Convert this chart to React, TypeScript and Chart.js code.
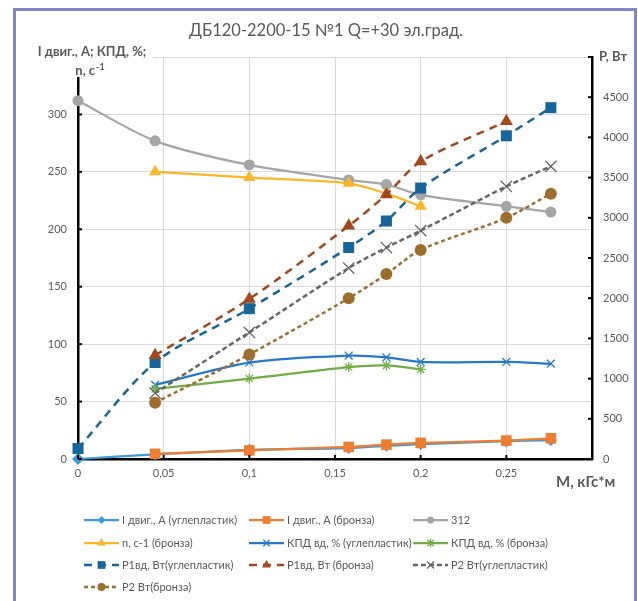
import { useEffect, useRef } from 'react';
import { Chart, registerables } from 'chart.js';

Chart.register(...registerables);

// Torque, kgf*m
const torque = [0, 0.045, 0.1, 0.158, 0.18, 0.2, 0.25, 0.276];

// Left axis: current (A), efficiency (%), speed (1/s)
const currentCarbon = [0, 4, 8, 9.5, 11.5, 13, 15.5, 16.5];
const currentBronze = [null, 4.5, 7.5, 10.5, 12.5, 14, 16, 18];
const series312 = [312, 277, 256, 243, 239, 230, 220, 215];
const speedBronze = [null, 250, 245, 240, 231, 220, null, null];
const effCarbon = [null, 64.5, 84, 90, 88.5, 84.5, 84.5, 83];
const effBronze = [null, 61, 70, 80, 81.5, 78, null, null];

// Right axis: power (W)
const p1Carbon = [130, 1200, 1870, 2630, 2960, 3370, 4020, 4370];
const p1Bronze = [null, 1290, 1990, 2900, 3290, 3700, 4200, null];
const p2Carbon = [null, 820, 1575, 2375, 2630, 2840, 3390, 3640];
const p2Bronze = [null, 700, 1300, 2000, 2300, 2600, 3000, 3300];

const FONT = 'Lato, "Open Sans", sans-serif';
const TEXT = '#595959';

type Style = 'circle' | 'rect' | 'rectRot' | 'triangle' | 'crossRot' | 'star';

interface SeriesDef {
  label: string;
  values: (number | null)[];
  axis: 'y' | 'y1';
  color: string;
  marker: Style;
  radius: number;
  legendRadius: number;
  dash: number[];
  width: number;
}

const series: SeriesDef[] = [
  { label: 'I двиг., А (углепластик)', values: currentCarbon, axis: 'y', color: '#3D9BD8', marker: 'rectRot', radius: 6, legendRadius: 4, dash: [], width: 2.25 },
  { label: 'I двиг., А (бронза)', values: currentBronze, axis: 'y', color: '#ED7D31', marker: 'rect', radius: 7.5, legendRadius: 5.5, dash: [], width: 2.25 },
  { label: '312', values: series312, axis: 'y', color: '#A5A5A5', marker: 'circle', radius: 5.5, legendRadius: 3.5, dash: [], width: 2.25 },
  { label: 'n, с-1 (бронза)', values: speedBronze, axis: 'y', color: '#FDB628', marker: 'triangle', radius: 7, legendRadius: 5, dash: [], width: 2.25 },
  { label: 'КПД вд, % (углепластик)', values: effCarbon, axis: 'y', color: '#2878C8', marker: 'crossRot', radius: 5.5, legendRadius: 4.5, dash: [], width: 2.25 },
  { label: 'КПД вд, % (бронза)', values: effBronze, axis: 'y', color: '#70AD47', marker: 'star', radius: 5, legendRadius: 4.5, dash: [], width: 2.25 },
  { label: 'P1вд, Вт(углепластик)', values: p1Carbon, axis: 'y1', color: '#17659A', marker: 'rect', radius: 7.8, legendRadius: 5.5, dash: [8, 6], width: 2.5 },
  { label: 'P1вд, Вт (бронза)', values: p1Bronze, axis: 'y1', color: '#A2481D', marker: 'triangle', radius: 7.5, legendRadius: 5, dash: [8, 6], width: 2.5 },
  { label: 'P2 Вт(углепластик)', values: p2Carbon, axis: 'y1', color: '#666666', marker: 'crossRot', radius: 8, legendRadius: 5, dash: [5, 3], width: 2.5 },
  { label: 'P2 Вт(бронза)', values: p2Bronze, axis: 'y1', color: '#9D6D2E', marker: 'circle', radius: 6, legendRadius: 4, dash: [4, 3], width: 2.5 },
];

const toPoints = (values: (number | null)[]) =>
  torque
    .map((x, i) => ({ x, y: values[i] }))
    .filter((p) => p.y !== null) as { x: number; y: number }[];

function drawMarker(ctx: CanvasRenderingContext2D, style: Style, x: number, y: number, r: number, color: string) {
  ctx.save();
  ctx.fillStyle = color;
  ctx.strokeStyle = color;
  ctx.setLineDash([]);
  ctx.lineWidth = 1.3;
  ctx.beginPath();
  const d = r * Math.SQRT1_2;
  switch (style) {
    case 'circle':
      ctx.arc(x, y, r, 0, Math.PI * 2);
      ctx.fill();
      break;
    case 'rect':
      ctx.rect(x - d, y - d, 2 * d, 2 * d);
      ctx.fill();
      break;
    case 'rectRot':
      ctx.moveTo(x - r, y);
      ctx.lineTo(x, y - r);
      ctx.lineTo(x + r, y);
      ctx.lineTo(x, y + r);
      ctx.closePath();
      ctx.fill();
      break;
    case 'triangle': {
      for (let k = 0; k < 3; k++) {
        const a = (k * 2 * Math.PI) / 3;
        const px = x + Math.sin(a) * r;
        const py = y - Math.cos(a) * r;
        if (k === 0) ctx.moveTo(px, py);
        else ctx.lineTo(px, py);
      }
      ctx.closePath();
      ctx.fill();
      break;
    }
    case 'crossRot':
      ctx.moveTo(x - d, y - d);
      ctx.lineTo(x + d, y + d);
      ctx.moveTo(x - d, y + d);
      ctx.lineTo(x + d, y - d);
      ctx.stroke();
      break;
    case 'star':
      ctx.moveTo(x - d, y - d);
      ctx.lineTo(x + d, y + d);
      ctx.moveTo(x - d, y + d);
      ctx.lineTo(x + d, y - d);
      ctx.moveTo(x, y - r);
      ctx.lineTo(x, y + r);
      ctx.moveTo(x - r, y);
      ctx.lineTo(x + r, y);
      ctx.stroke();
      break;
  }
  ctx.restore();
}

const decorations = {
  id: 'decorations',
  afterDraw(chart: any) {
    const ctx: CanvasRenderingContext2D = chart.ctx;
    const area = chart.chartArea;
    const yL = chart.scales.y;
    const yR = chart.scales.y1;
    const xs = chart.scales.x;

    ctx.save();

    // inner tick marks
    ctx.strokeStyle = '#000';
    ctx.lineWidth = 2;
    yL.ticks.forEach((t: any) => {
      const py = yL.getPixelForValue(t.value);
      ctx.beginPath();
      ctx.moveTo(area.left, py);
      ctx.lineTo(area.left + 4, py);
      ctx.stroke();
    });
    yR.ticks.forEach((t: any) => {
      const py = yR.getPixelForValue(t.value);
      ctx.beginPath();
      ctx.moveTo(area.right, py);
      ctx.lineTo(area.right - 4, py);
      ctx.stroke();
    });
    xs.ticks.forEach((t: any) => {
      const px = xs.getPixelForValue(t.value);
      ctx.beginPath();
      ctx.moveTo(px, area.bottom);
      ctx.lineTo(px, area.bottom - 4);
      ctx.stroke();
    });

    // chart title
    ctx.fillStyle = TEXT;
    ctx.textBaseline = 'middle';
    ctx.textAlign = 'center';
    ctx.font = `16.5px ${FONT}`;
    ctx.fillText('ДБ120-2200-15 №1 Q=+30 эл.град.', 326, 31);

    // left axis title box
    ctx.fillStyle = '#fff';
    ctx.fillRect(28, 40, 125, 37);
    ctx.fillStyle = TEXT;
    ctx.font = `bold 13px ${FONT}`;
    ctx.textAlign = 'center';
    ctx.fillText('I двиг., А; КПД, %;', 92, 52);
    ctx.textAlign = 'left';
    const base = 'n, с';
    const wBase = ctx.measureText(base).width;
    ctx.font = `bold 9px ${FONT}`;
    const wSup = ctx.measureText('-1').width;
    const startX = 90 - (wBase + wSup + 1) / 2;
    ctx.font = `bold 13px ${FONT}`;
    ctx.fillText(base, startX, 71);
    ctx.font = `bold 9px ${FONT}`;
    ctx.fillText('-1', startX + wBase + 1, 67);

    // right axis title
    ctx.font = `bold 13px ${FONT}`;
    ctx.textAlign = 'left';
    ctx.fillText('P, Вт', 599, 57);

    // x axis title
    ctx.font = `bold 15px ${FONT}`;
    ctx.fillText('M, кГс*м', 556, 482);

    // legend grid
    const cols = [84, 249, 413];
    const rows = [520, 543, 565, 587];
    series.forEach((s, i) => {
      const x0 = cols[i % 3];
      const y0 = rows[Math.floor(i / 3)];
      ctx.save();
      ctx.strokeStyle = s.color;
      ctx.lineWidth = s.width;
      ctx.setLineDash(s.dash);
      ctx.beginPath();
      ctx.moveTo(x0, y0);
      ctx.lineTo(x0 + 35, y0);
      ctx.stroke();
      ctx.restore();
      drawMarker(ctx, s.marker, x0 + 17.5, y0, s.legendRadius, s.color);
      ctx.fillStyle = TEXT;
      ctx.font = `11px ${FONT}`;
      ctx.textAlign = 'left';
      ctx.textBaseline = 'middle';
      ctx.fillText(s.label, x0 + 38, y0);
    });

    // frame
    ctx.strokeStyle = '#8286C8';
    ctx.lineWidth = 3;
    ctx.strokeRect(14.5, 9.5, 621, 620);

    ctx.restore();
  },
};

const fmtX = (v: number) => {
  if (Math.abs(v - 0.3) < 1e-9) return '';
  return String(+v.toFixed(2)).replace('.', ',');
};

export default function App() {
  const canvasRef = useRef<HTMLCanvasElement | null>(null);

  useEffect(() => {
    if (!canvasRef.current) return;
    const chart = new Chart(canvasRef.current, {
      type: 'line',
      data: {
        datasets: series.map((s, i) => ({
          label: s.label,
          data: toPoints(s.values),
          yAxisID: s.axis,
          borderColor: s.color,
          backgroundColor: s.color,
          borderWidth: s.width,
          borderDash: s.dash,
          pointStyle: s.marker,
          pointRadius: s.radius,
          pointBackgroundColor: s.color,
          pointBorderColor: s.color,
          pointBorderWidth: s.marker === 'crossRot' || s.marker === 'star' ? 1.3 : 0,
          tension: 0.3,
          fill: false,
          clip: false as any,
          order: -i,
        })),
      },
      options: {
        responsive: false,
        animation: false,
        devicePixelRatio: 1,
        layout: { padding: { top: 57, left: 0, right: 0, bottom: 0 } },
        plugins: {
          legend: { display: false },
          title: { display: false },
          tooltip: { enabled: false },
        },
        scales: {
          x: {
            type: 'linear',
            min: 0,
            max: 0.3,
            ticks: {
              stepSize: 0.05,
              autoSkip: false,
              maxRotation: 0,
              padding: 8,
              color: TEXT,
              font: { family: FONT, size: 11 },
              callback: (v: any) => fmtX(Number(v)),
            },
            grid: { color: '#D9D9D9', lineWidth: 1, drawTicks: false },
            border: { color: '#000', width: 2.5 },
            afterFit: (s: any) => {
              s.height = 142;
            },
          },
          y: {
            position: 'left',
            min: 0,
            max: 350,
            ticks: {
              stepSize: 50,
              padding: 11,
              color: TEXT,
              font: { family: FONT, size: 11 },
              callback: (v: any) => (Number(v) === 350 ? '' : String(v)),
            },
            grid: { color: '#D9D9D9', lineWidth: 1, drawTicks: false },
            border: { color: '#000', width: 2.5 },
            afterFit: (s: any) => {
              s.width = 78;
            },
          },
          y1: {
            position: 'right',
            min: 0,
            max: 5000,
            ticks: {
              stepSize: 500,
              padding: 11,
              color: TEXT,
              font: { family: FONT, size: 11 },
              callback: (v: any) => (Number(v) === 5000 ? '' : String(v)),
            },
            grid: { drawOnChartArea: false, drawTicks: false },
            border: { color: '#000', width: 2.5 },
            afterFit: (s: any) => {
              s.width = 46;
            },
          },
        },
      },
      plugins: [decorations],
    });
    return () => chart.destroy();
  }, []);

  return (
    <div style={{ position: 'fixed', left: 0, top: 0, width: 638, height: 601, background: '#fff' }}>
      <canvas ref={canvasRef} width={638} height={601} style={{ display: 'block' }} />
    </div>
  );
}
